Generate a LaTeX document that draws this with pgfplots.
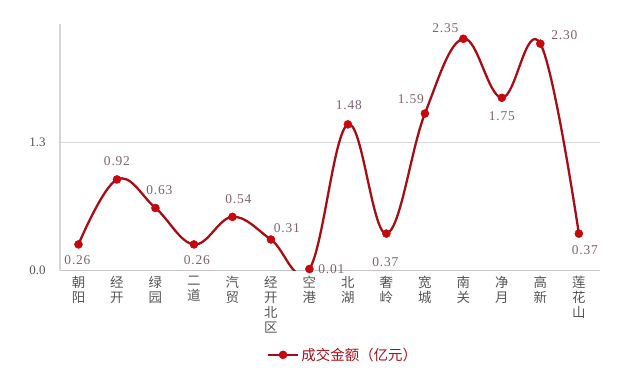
\documentclass[border=0pt]{standalone}
\usepackage{pgfplots}
\pgfplotsset{compat=1.18}
\usepackage{pgfplotstable}
\usepackage{fontspec}
\setmainfont{Liberation Serif}
\newfontfamily\cjk{Noto Sans CJK SC}
\definecolor{linered}{RGB}{166,14,22}
\definecolor{markred}{RGB}{196,8,14}
\definecolor{labcol}{RGB}{128,98,104}
\definecolor{axgray}{RGB}{212,212,212}
\definecolor{tickgray}{RGB}{85,85,85}

\pgfplotstableread{
x y dx dy
0 0.26 -1 -16
1 0.92 0 18
2 0.63 4 18
3 0.26 3 -16
4 0.54 6 18
5 0.31 16 11
6 0.01 22 0
7 1.48 1 19
8 0.37 -1 -29
9 1.59 -14 14
10 2.35 -18 11
11 1.75 0 -18
12 2.30 24 9
13 0.37 6 -17
}\data

\begin{document}
\begin{tikzpicture}
\begin{axis}[
  at={(0,0)}, anchor=south west,
  scale only axis, width=540bp, height=246bp,
  xmin=-0.48, xmax=13.55, ymin=0, ymax=2.5,
  axis x line*=bottom, axis y line*=left,
  axis line style={draw=axgray, line width=1.3bp, -},
  x axis line style={draw=gray!45, line width=1bp},
  major tick length=0pt,
  xtick={0,...,13},
  xticklabels={{朝\\阳},{经\\开},{绿\\园},{二\\道},{汽\\贸},{经\\开\\北\\区},{空\\港},{北\\湖},{奢\\岭},{宽\\城},{南\\关},{净\\月},{高\\新},{莲\\花\\山}},
  xticklabel style={align=center, font=\cjk\fontsize{13.5}{15}\selectfont, text=tickgray, anchor=north, yshift=-3bp},
  ytick={0,1.3},
  yticklabel style={font=\fontsize{13}{14}\selectfont, text=tickgray, xshift=-11bp,
    /pgf/number format/.cd, fixed, precision=1, fixed zerofill},
  /pgf/number format/assume math mode=true,
  ymajorgrids, grid style={draw=gray!30, line width=0.6bp},
  clip mode=individual,
  legend style={at={(0.524,-0.345)}, anchor=center, draw=none, fill=none,
    font=\cjk\fontsize{14.5}{16}\selectfont, text=linered},
  legend image code/.code={\draw[mark repeat=2,mark phase=2] plot coordinates {(0cm,0cm)(0.53cm,0cm)(1.07cm,0cm)};},
]
\addplot[linered, line width=2.3bp, smooth, tension=0.65,
  mark=*, mark size=4bp, mark options={fill=markred, draw=markred, line width=0.5bp},
  nodes near coords,
  visualization depends on={\thisrow{dx} \as \dx},
  visualization depends on={\thisrow{dy} \as \dy},
  nodes near coords style={anchor=center, xshift=\dx bp, yshift=\dy bp,
    font=\fontsize{13.5}{14}\selectfont\addfontfeatures{LetterSpace=6}, text=labcol,
    /pgf/number format/.cd, fixed, precision=2, fixed zerofill, assume math mode=true},
] table[x=x, y=y] {\data};
\addlegendentry{成交金额（亿元）}
\end{axis}
\pgfresetboundingbox
\useasboundingbox (-60bp,-103bp) rectangle (580bp,270bp);
\end{tikzpicture}
\end{document}
